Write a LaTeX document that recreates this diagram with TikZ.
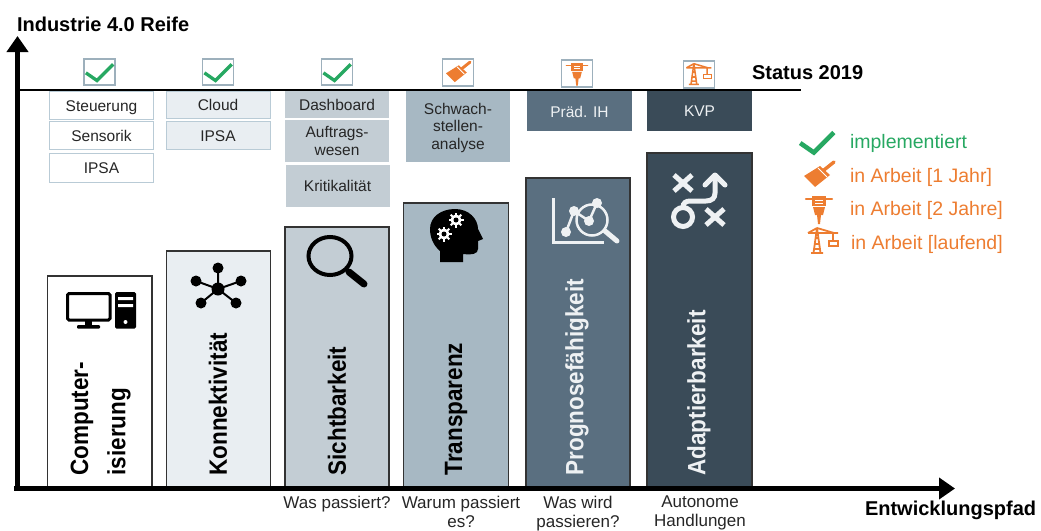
\documentclass[tikz,border=0pt]{standalone}
\usepackage{fontspec}
\setmainfont{Liberation Sans}
\newfontfamily\titlefont[FakeStretch=0.9]{Liberation Sans}
\usetikzlibrary{arrows.meta}
\definecolor{cA}{HTML}{E9EEF2}
\definecolor{cB}{HTML}{C3CDD4}
\definecolor{cC}{HTML}{A7B8C3}
\definecolor{cD}{HTML}{5A6F80}
\definecolor{cE}{HTML}{3A4B58}
\definecolor{edgeB}{HTML}{B9CBD6}
\definecolor{iconEdge}{HTML}{9DB0BC}
\definecolor{okG}{HTML}{27A862}
\definecolor{wipO}{HTML}{ED7D31}
\definecolor{softW}{HTML}{EEF1F3}
\tikzset{
  x=1pt,y=-1pt,
  every node/.style={inner sep=0pt,outer sep=0pt,font=\fontsize{15.5}{17.5}\selectfont,text=black!85},
  bar/.style={draw=black!80,line width=1.2pt,anchor=north west},
  minibox/.style={draw=edgeB,line width=1pt,anchor=north west,align=center},
  oneline/.style={text height=13pt,text depth=1pt},
  iconbox/.style={draw=iconEdge,line width=1.2pt,fill=white,anchor=north west},
  axis/.style={line width=5pt,-{Triangle[length=16pt,width=21pt]}},
  title/.style={rotate=90,anchor=west,font=\titlefont\bfseries\fontsize{25}{27}\selectfont,text=black},
  titlew/.style={title,text=softW},
  qtext/.style={font=\fontsize{17}{19}\selectfont,align=center,anchor=north},
  head/.style={font=\bfseries\fontsize{20}{22}\selectfont,text=black,anchor=west},
  legG/.style={font=\fontsize{19.5}{22}\selectfont,text=okG,anchor=west},
  legO/.style={font=\fontsize{19.5}{22}\selectfont,text=wipO,anchor=west},
  pics/chk/.style={code={
    \draw[okG,line width=#1*4.4pt,line join=miter] (-16,1)--(-3,10)--(16,-9);}},
  pics/brush/.style={code={
    \fill[wipO] (-15,1)--(-4,12)--(11,0)--(1,-9)--cycle;
    \draw[white,line width=#1*1pt] (-1,-7)--(8,2);
    \draw[wipO,line width=#1*3.4pt,line cap=round] (5,-5)--(15,-13);}},
  pics/hammer/.style={code={
    \draw[wipO,line width=#1*2.2pt,line cap=round] (-13,-10)--(13,-10);
    \fill[wipO] (-7,-13) rectangle (7,-3);
    \draw[white,line width=#1*.9pt] (-4,-9)--(4,-9) (-4,-6)--(4,-6);
    \fill[wipO] (-6,-2)--(6,-2)--(4,6)--(2,6)--(1,15)--(-1,15)--(-2,6)--(-4,6)--cycle;}},
  pics/crane/.style={code={
    \draw[wipO,line width=#1*1.8pt] (-20,-8)--(10,-8) (-11,-13)--(-20,-8) (-11,-13)--(6,-8)
      (-11,-13)--(-14.5,12) (-11,-13)--(-7.5,12) (-17,12)--(-5,12)
      (-13,-3)--(-9,-3) (-13.5,3)--(-8.5,3) (-14,8)--(-8,8)
      (5,-8)--(5,0);
    \draw[wipO,line width=#1*1.5pt] (1,0) rectangle (10,5);}}
}
\begin{document}
\begin{tikzpicture}
\useasboundingbox (0,0) rectangle (1041,530);
% bars
\node[bar,fill=white,minimum width=104.5pt,minimum height=210.5pt] (bar1) at (47.5,276) {};
\node[bar,fill=cA,minimum width=104pt,minimum height=235.5pt] (bar2) at (166.5,251) {};
\node[bar,fill=cB,minimum width=104pt,minimum height=259.5pt] (bar3) at (285,227) {};
\node[bar,fill=cC,minimum width=105pt,minimum height=283.5pt] (bar4) at (403.5,203) {};
\node[bar,fill=cD,minimum width=104pt,minimum height=308.5pt] (bar5) at (526,178) {};
\node[bar,fill=cE,minimum width=105pt,minimum height=333.5pt] (bar6) at (647,153) {};
% mini boxes
\node[minibox,oneline,fill=white,minimum width=104pt,minimum height=28pt] (s1) at (49.5,91) {Steuerung};
\node[minibox,oneline,fill=white,minimum width=104pt,minimum height=28.5pt] (s2) at (49.5,121) {Sensorik};
\node[minibox,oneline,fill=white,minimum width=104pt,minimum height=28.5pt] (s3) at (49.5,153.5) {IPSA};
\node[minibox,oneline,fill=cA,minimum width=104pt,minimum height=27pt] (c1) at (166,91) {Cloud};
\node[minibox,oneline,fill=cA,minimum width=104pt,minimum height=28pt] (c2) at (166,121.5) {IPSA};
\node[minibox,oneline,draw=none,fill=cB,minimum width=104pt,minimum height=27pt] (d1) at (285,90.5) {Dashboard};
\node[minibox,draw=none,fill=cB,minimum width=104pt,minimum height=42pt] (d2) at (285,120) {Auftrags-\\wesen};
\node[minibox,oneline,draw=none,fill=cB,minimum width=104pt,minimum height=42pt] (d3) at (285.5,164.5) {Kritikalität};
\node[minibox,draw=none,fill=cC,minimum width=104pt,minimum height=72pt] (a1) at (406,90) {\rule{0pt}{15pt}Schwach-\\stellen-\\analyse};
\node[minibox,oneline,draw=none,fill=cD,minimum width=105pt,minimum height=40pt,text=softW] (p1) at (527,91) {Präd. IH};
\node[minibox,oneline,draw=none,fill=cE,minimum width=105pt,minimum height=41pt,text=softW] (k1) at (647,90) {KVP};
% status line
\coordinate (stL) at (20,89.5);
\coordinate (stR) at (801,89.5);
\draw[black,line width=2pt] (stL)--(stR);
% icon squares
\node[iconbox,minimum width=31pt,minimum height=26pt] (i1) at (84,59) {};
\node[iconbox,minimum width=31pt,minimum height=26pt] (i2) at (202.5,59) {};
\node[iconbox,minimum width=31pt,minimum height=26pt] (i3) at (321.5,59) {};
\node[iconbox,minimum width=31pt,minimum height=27pt] (i4) at (442.5,59) {};
\node[iconbox,minimum width=31pt,minimum height=27pt] (i5) at (561.5,60) {};
\node[iconbox,minimum width=31pt,minimum height=27pt] (i6) at (683.5,61) {};
\pic[scale=.85] at (i1) {chk=.75};
\pic[scale=.85] at (i2) {chk=.75};
\pic[scale=.85] at (i3) {chk=.75};
\pic[scale=.8] at (i4) {brush=.85};
\pic[scale=.8] at (i5) {hammer=.85};
\pic[scale=.83] at ([xshift=4pt]i6) {crane=.85};
% axes
\coordinate (o) at (14,488.5);
\coordinate (yo) at (17.5,491);
\coordinate (yt) at (17.5,36);
\coordinate (xt) at (955,488.5);
\draw[axis] (yo)--(yt);
\draw[axis] (o)--(xt);
% titles
\node[title] (t1a) at (82,475.5) {Computer-};
\node[title] (t1b) at (119,475.5) {isierung};
\node[title] (t2) at (218,475.5) {Konnektivität};
\node[title] (t3) at (337,475.5) {Sichtbarkeit};
\node[title] (t4) at (456,475.5) {Transparenz};
\node[titlew] (t5) at (577,475.5) {Prognosefähigkeit};
\node[titlew] (t6) at (699,475.5) {Adaptierbarkeit};
% bar icons: computer
\draw[black,line width=3pt,rounded corners=1.5pt] (67.5,293.5) rectangle (110,320);
\fill[black] (85,321) rectangle (92,326);
\fill[black,rounded corners=1pt] (77,325) rectangle (100,328.5);
\fill[black,rounded corners=1.5pt] (115,292) rectangle (136,328.5);
\fill[white] (118,297) rectangle (133,300) (118,304) rectangle (133,307);
\fill[white] (125.5,322) circle (2);
% network
\draw[black,line width=2pt] (218,289)--(218,268) (218,289)--(196,281) (218,289)--(241,281) (218,289)--(201,303) (218,289)--(236,303);
\fill[black] (218,289) circle (6.5) (218,268) circle (5.5) (196,281) circle (5.5) (241,281) circle (5.5) (201,303) circle (5.5) (236,303) circle (5.5);
% magnifier
\draw[black,line width=4pt] (330,256) ellipse (21.5 and 19);
\draw[black,line width=7pt,line cap=round] (349,272)--(364,284);
% head
\fill[black] (440,262)--(440,251) .. controls (433,245) and (430,237) .. (430,229)
  .. controls (430,217) and (441,209) .. (455,209) .. controls (469,209) and (478,219) .. (478,229)
  --(483,239)--(478,241)--(478,249) .. controls (478,254) and (472,255) .. (463,254)--(463,262)--cycle;
\foreach \cx/\cy in {456/220,444/234}{
  \foreach \a in {0,45,...,315}{\draw[white,line width=2pt] (\cx,\cy)--++(\a:7.5);}
  \fill[white] (\cx,\cy) circle (5.5);
  \fill[black] (\cx,\cy) circle (2.5);
}
% analytics
\draw[softW,line width=3pt] (553,198)--(553,242)--(604,242);
\draw[softW,line width=2.5pt] (566,232)--(574,211)--(589,221)--(597,203);
\fill[softW] (566,232) circle (5) (574,211) circle (5) (589,221) circle (5) (597,203) circle (5);
\draw[softW,line width=2.5pt] (592,220) circle (15.5);
\draw[softW,line width=5pt,line cap=round] (605,231)--(617,241);
% strategy
\draw[softW,line width=5pt] (674,175)--(692,191) (692,175)--(674,191);
\draw[softW,line width=5pt] (706,209)--(724,225) (724,209)--(706,225);
\draw[softW,line width=5pt] (683,217) circle (9.5);
\draw[softW,line width=5pt] (683,207) .. controls (683,203) and (686,201) .. (690,201)--(706,201)
  .. controls (712,201) and (715,198) .. (715,193)--(715,177);
\draw[softW,line width=5pt,line cap=round,line join=round] (705,185)--(715,175)--(725,185);
% texts
\node[head] (yl) at (17,24) {Industrie 4.0 Reife};
\node[head] (st) at (752,73) {Status 2019};
\node[head] (xl) at (865,510) {Entwicklungspfad};
\node[qtext] (q3) at (337,496) {Was passiert?};
\node[qtext] (q4) at (461,496) {Warum passiert\\es?};
\node[qtext] (q5) at (578,496) {Was wird\\passieren?};
\node[qtext] (q6) at (700,496) {Autonome\\Handlungen};
% legend
\pic[scale=1.05] at (817,142) {chk=1.05};
\pic at (819,175) {brush=1};
\pic at (819,209) {hammer=1};
\pic at (828,241) {crane=1};
\node[legG] (l1) at (850,143.5) {implementiert};
\node[legO] (l2) at (850,177.5) {in Arbeit [1 Jahr]};
\node[legO] (l3) at (850,210) {in Arbeit [2 Jahre]};
\node[legO] (l4) at (851,244) {in Arbeit [laufend]};
\end{tikzpicture}
\end{document}
